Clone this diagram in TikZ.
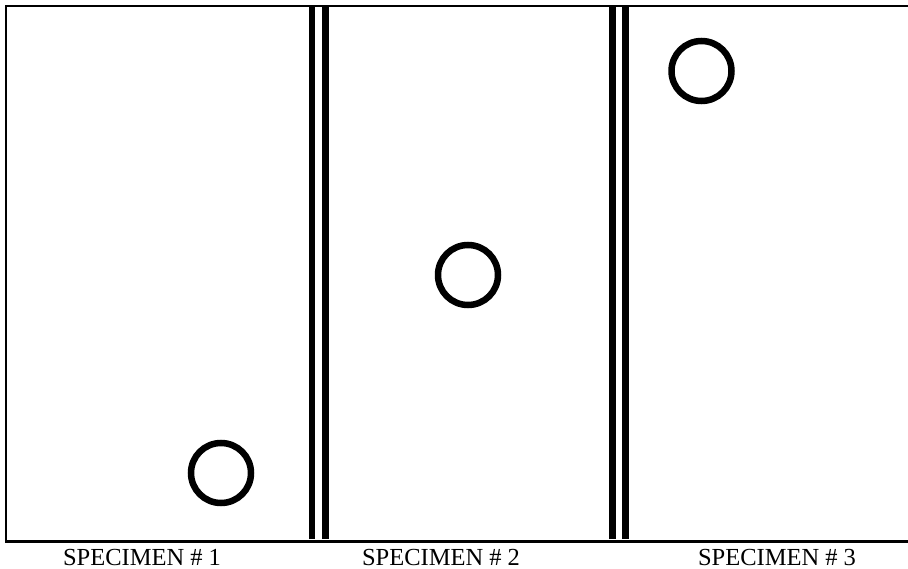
\documentclass[tikz,border=0pt]{standalone}
\usepackage{fontspec}
\setmainfont{Liberation Serif}
\begin{document}
\begin{tikzpicture}[x=1pt,y=-1pt,
  frame/.style={line width=2.2pt},
  bar/.style={line width=6.5pt},
  spec/.style={circle, draw, line width=6.5pt, minimum size=60pt, inner sep=0pt},
  lab/.style={font=\fontsize{24.5}{28}\selectfont, anchor=base, inner sep=0pt}]
\useasboundingbox (0,0) rectangle (908,569);
\coordinate (tl) at (6,6);
\coordinate (tr) at (912,6);
\coordinate (bl) at (6,541.5);
\coordinate (br) at (912,541.5);
\draw[frame] (tr) -- (tl) -- (bl) -- (br);
% double separators
\coordinate (a1) at (311.75,6); \coordinate (a2) at (311.75,539);
\coordinate (b1) at (325.25,6); \coordinate (b2) at (325.25,539);
\coordinate (c1) at (612.5,6); \coordinate (c2) at (612.5,539);
\coordinate (d1) at (625.5,6); \coordinate (d2) at (625.5,539);
\draw[bar] (a1) -- (a2);
\draw[bar] (b1) -- (b2);
\draw[bar] (c1) -- (c2);
\draw[bar] (d1) -- (d2);
% circles
\node[spec] (s1) at (221,473) {};
\node[spec] (s2) at (468,275) {};
\node[spec] (s3) at (701.5,71) {};
% labels
\node[lab] (l1) at (142,565) {SPECIMEN \# 1};
\node[lab] (l2) at (441,565) {SPECIMEN \# 2};
\node[lab] (l3) at (777,565) {SPECIMEN \# 3};
\end{tikzpicture}
\end{document}
